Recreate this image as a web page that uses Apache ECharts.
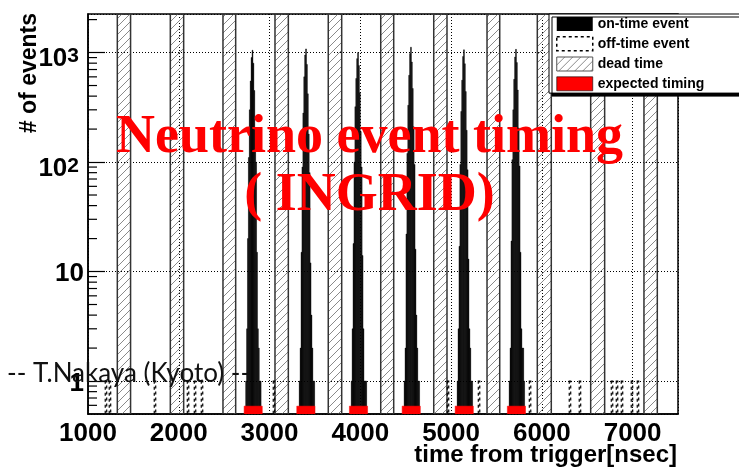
<!DOCTYPE html>
<html>
<head>
<meta charset="utf-8">
<script src="https://cdn.jsdelivr.net/npm/echarts@6/dist/echarts.min.js"></script>
<style>html,body{margin:0;padding:0;background:#fff}#c{width:739px;height:468px}</style>
</head>
<body>
<div id="c"></div>
<script>
// ---------------- data ----------------
const X_MIN = 1000, X_MAX = 7500;
const Y_MIN = 0.5, Y_MAX = 2250;
const xTicks = [1000, 2000, 3000, 4000, 5000, 6000, 7000];

// dead-time windows [ns]
const deadStart = [1323, 1907, 2487, 3060, 3647, 4225, 4809, 5396, 5950, 6538, 7125];
const deadEnd   = [1469, 2054, 2627, 3207, 3795, 4368, 4955, 5536, 6104, 6692, 7272];

// on-time event histograms: first bin edge of each bunch [ns], 10 ns bins
const binWidth = 10;
const bunchStart = [2737, 3327, 3900, 4483, 5067, 5640];
const bunch1 = [1, 3, 20, 110, 300, 550, 900, 1050, 800, 450, 200, 100, 15, 3, 2, 1, 1];
const bunch2 = [1, 2, 15, 90, 280, 600, 950, 1080, 780, 420, 180, 80, 12, 4, 2, 1, 1];
const bunch3 = [1, 3, 18, 100, 320, 580, 880, 1000, 760, 430, 190, 90, 14, 3, 1, 1, 1];
const bunch4 = [1, 2, 22, 120, 330, 620, 980, 1120, 820, 470, 210, 95, 16, 4, 2, 1, 1];
const bunch5 = [1, 3, 17, 95, 290, 560, 920, 1060, 790, 440, 195, 85, 13, 3, 2, 1, 1];
const bunch6 = [1, 2, 19, 105, 300, 570, 910, 1070, 810, 455, 205, 92, 15, 3, 2, 2, 1];
const bunchCounts = [bunch1, bunch2, bunch3, bunch4, bunch5, bunch6];

// off-time events (1 entry each) [ns]
const offTime = [1198, 1242, 1738, 2102, 2179, 2256, 3049, 4966, 5308, 5870, 6310, 6420, 6773, 6828, 6883, 6993, 7059];
const offBinWidth = 16;

// expected timing windows
const expectedCenter = [2820, 3400, 3980, 4561, 5145, 5720];
const expectedHalfWidth = 100;
const expectedLevel = 0.59;

// y-axis minor tick values
const minorTicks = [0.6, 0.7, 0.8, 0.9, 2, 3, 4, 5, 6, 7, 8, 9, 20, 30, 40, 50, 60, 70, 80, 90,
                    200, 300, 400, 500, 600, 700, 800, 900, 2000];

// ---------------- build library data ----------------
const onTimeData = [];
bunchStart.forEach((s, i) => {
  bunchCounts[i].forEach((c, k) => {
    onTimeData.push([s + k * binWidth, s + (k + 1) * binWidth, c]);
  });
});
const deadData = deadStart.map((s, i) => [s, deadEnd[i]]);
const offData = offTime.map(t => [t - offBinWidth / 2, t + offBinWidth / 2, 1]);
const expData = expectedCenter.map(c => [c - expectedHalfWidth, c + expectedHalfWidth, expectedLevel]);
const minorData = minorTicks.map(v => [X_MIN, v]);

// hatch pattern
const hatch = document.createElement('canvas');
hatch.width = 8; hatch.height = 8;
const g = hatch.getContext('2d');
g.strokeStyle = '#8a8a8a'; g.lineWidth = 1;
g.beginPath();
g.moveTo(0, 8); g.lineTo(8, 0);
g.moveTo(-1, 1); g.lineTo(1, -1);
g.moveTo(7, 9); g.lineTo(9, 7);
g.stroke();
const hatchPattern = { image: hatch, repeat: 'repeat' };

const FONT = 'Liberation Sans';

function histRect(fill, stroke, lw, dash) {
  return function (params, api) {
    const p0 = api.coord([api.value(0), api.value(2)]);
    const p1 = api.coord([api.value(1), Y_MIN]);
    return {
      type: 'rect',
      shape: { x: p0[0], y: p0[1], width: p1[0] - p0[0], height: p1[1] - p0[1] },
      style: { fill: fill, stroke: stroke, lineWidth: lw, lineDash: dash || null }
    };
  };
}

const chart = echarts.init(document.getElementById('c'), null, { renderer: 'canvas' });
chart.setOption({
  animation: false,
  backgroundColor: '#fff',
  title: [
    {
      text: 'Neutrino event timing\n( INGRID)',
      left: 'center', top: 104, padding: [5, 13, 5, 5],
      textStyle: { fontFamily: 'Liberation Serif', fontWeight: 'bold', fontSize: 54, lineHeight: 58, color: '#ff0000' }
    },
    {
      text: '-- T.Nakaya (Kyoto) --',
      left: 2, top: 354,
      textStyle: { fontFamily: 'Lato', fontWeight: 'normal', fontSize: 26, lineHeight: 30, color: '#111' }
    },
    {
      text: 'time from trigger[nsec]',
      right: 57, top: 438,
      textStyle: { fontFamily: FONT, fontWeight: 'bold', fontSize: 24, lineHeight: 24, color: '#000' }
    }
  ],
  legend: {
    orient: 'vertical',
    left: 549, top: 14,
    itemWidth: 36, itemHeight: 14, itemGap: 5,
    padding: [3, 60, 2, 7],
    backgroundColor: '#fff',
    borderColor: '#000', borderWidth: 1,
    shadowColor: '#000', shadowBlur: 0, shadowOffsetX: 3, shadowOffsetY: 3,
    selectedMode: false,
    textStyle: { fontFamily: FONT, fontWeight: 'bold', fontSize: 14, lineHeight: 14, color: '#000' },
    data: [
      { name: 'on-time event', icon: 'rect', itemStyle: { color: '#000' } },
      { name: 'off-time event', icon: 'rect', itemStyle: { color: '#fff', borderColor: '#000', borderWidth: 1.5, borderType: [3, 3] } },
      { name: 'dead time', icon: 'rect', itemStyle: { color: hatchPattern, borderColor: '#555', borderWidth: 1 } },
      { name: 'expected timing', icon: 'rect', itemStyle: { color: '#ff0000', borderColor: '#000', borderWidth: 0.6 } }
    ]
  },
  grid: {
    left: 88, top: 14, right: 61, bottom: 54,
    outerBoundsMode: 'none', containLabel: false,
    show: true, borderColor: '#000', borderWidth: 1.5, backgroundColor: 'transparent'
  },
  xAxis: {
    type: 'value', min: X_MIN, max: X_MAX, interval: 1000,
    axisLine: { lineStyle: { color: '#000', width: 1.5 } },
    axisTick: { show: false },
    axisLabel: {
      showMaxLabel: false, margin: 7,
      fontFamily: FONT, fontWeight: 'bold', fontSize: 26, color: '#000',
      formatter: v => (xTicks.indexOf(v) >= 0 ? String(v) : '')
    },
    splitLine: { show: true, lineStyle: { color: '#000', width: 1, type: [1, 2] } }
  },
  yAxis: {
    type: 'log', logBase: 10, min: Y_MIN, max: Y_MAX,
    axisLine: { show: true, lineStyle: { color: '#000', width: 1.5 } },
    axisTick: { show: true, inside: true, length: 17, lineStyle: { color: '#000', width: 1.2 } },
    splitLine: { show: true, lineStyle: { color: '#000', width: 1, type: [1, 2] } },
    axisLabel: {
      margin: 4,
      showMinLabel: false, showMaxLabel: false,
      formatter: function (v) {
        const e = Math.round(Math.log10(v));
        if (Math.abs(Math.log10(v) - e) > 1e-6) return '';
        if (e >= 2) return '{bb|10}{s|' + e + '}';
        return '{b|' + Math.round(v) + '}';
      },
      rich: {
        b: { fontFamily: FONT, fontWeight: 'bold', fontSize: 26, color: '#000', verticalAlign: 'bottom', padding: [5, 0, 0, 0] },
        bb: { fontFamily: FONT, fontWeight: 'bold', fontSize: 26, color: '#000', verticalAlign: 'bottom', padding: [13, 0, 0, 0] },
        s: { fontFamily: FONT, fontWeight: 'bold', fontSize: 21, color: '#000', verticalAlign: 'bottom', padding: [0, 5, 5, 0] }
      }
    }
  },
  graphic: [
    {
      type: 'text', x: 30, y: 13, rotation: Math.PI / 2,
      style: { text: '# of events', fontFamily: FONT, fontWeight: 'bold', fontSize: 23, fill: '#000', align: 'right', verticalAlign: 'middle' }
    }
  ],
  series: [
    {
      name: 'dead time', type: 'custom', clip: true,
      itemStyle: { color: '#999' },
      encode: { x: [0, 1] },
      data: deadData,
      renderItem: function (params, api) {
        const p0 = api.coord([api.value(0), Y_MAX]);
        const p1 = api.coord([api.value(1), Y_MIN]);
        return {
          type: 'rect',
          shape: { x: p0[0], y: p0[1], width: p1[0] - p0[0], height: p1[1] - p0[1] },
          style: { fill: hatchPattern, stroke: '#333', lineWidth: 1.5 }
        };
      }
    },
    {
      name: 'on-time event', type: 'custom', clip: true,
      itemStyle: { color: '#000' },
      encode: { x: [0, 1], y: 2 },
      data: onTimeData,
      renderItem: histRect('#000', '#000', 0.4)
    },
    {
      name: 'off-time event', type: 'custom', clip: true,
      itemStyle: { color: '#fff' },
      encode: { x: [0, 1], y: 2 },
      data: offData,
      renderItem: histRect(null, '#000', 1.2, [3, 3])
    },
    {
      name: 'expected timing', type: 'custom', clip: true,
      itemStyle: { color: '#ff0000' },
      encode: { x: [0, 1], y: 2 },
      data: expData,
      renderItem: histRect('#ff0000', '#ff0000', 0.5)
    },
    {
      name: 'minor ticks', type: 'custom', clip: false, silent: true,
      encode: { x: 0, y: 1 },
      data: minorData,
      renderItem: function (params, api) {
        const p = api.coord([api.value(0), api.value(1)]);
        return { type: 'line', shape: { x1: p[0], y1: p[1], x2: p[0] + 9, y2: p[1] }, style: { stroke: '#000', lineWidth: 1.2 } };
      }
    }
  ]
});
</script>
</body>
</html>
